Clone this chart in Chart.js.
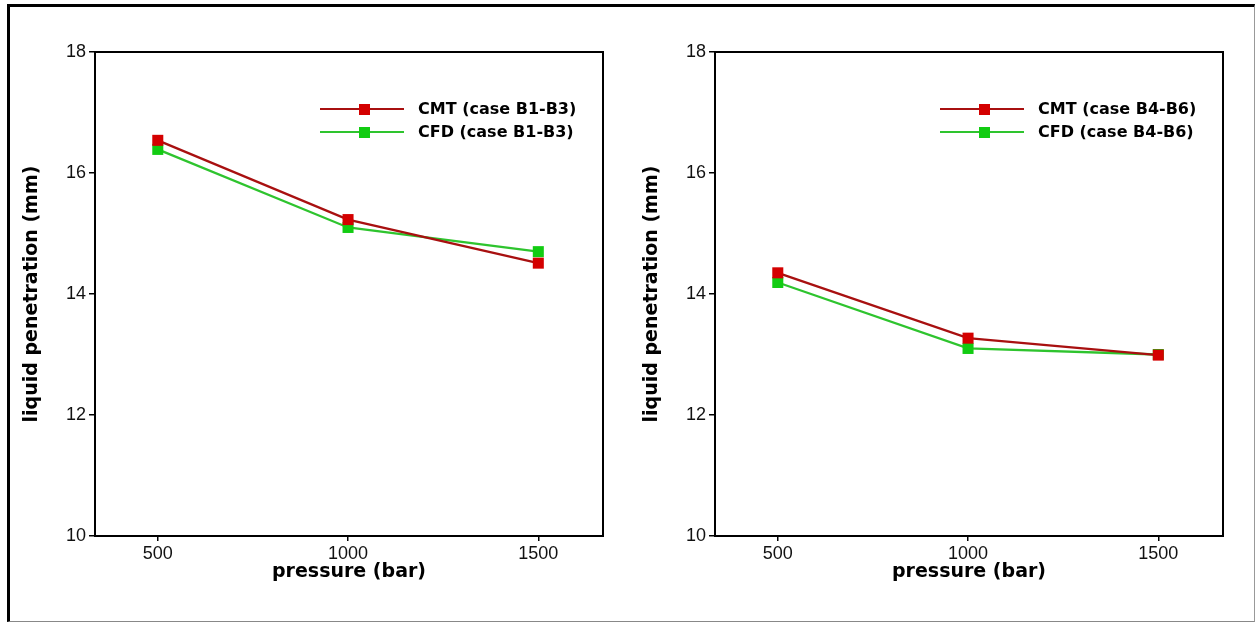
<!DOCTYPE html>
<html>
<head>
<meta charset="utf-8">
<script src="https://cdn.jsdelivr.net/npm/chart.js@4.4.1/dist/chart.umd.min.js"></script>
<style>
  html, body { margin: 0; padding: 0; background: #fff; }
  #page { position: relative; width: 1257px; height: 624px; overflow: hidden; }
  #frame {
    position: absolute; left: 7px; top: 4px; width: 1248px; height: 618px;
    border-left: 3px solid #000; border-top: 3px solid #000;
    border-right: 1px solid #999; border-bottom: 1px solid #888;
    box-sizing: border-box;
  }
  .box { position: absolute; top: 0; width: 620px; height: 624px; }
  #boxLeft { left: 8px; }
  #boxRight { left: 628px; }
</style>
</head>
<body>
<div id="page">
  <div id="frame"></div>
  <div class="box" id="boxLeft"><canvas id="chartLeft"></canvas></div>
  <div class="box" id="boxRight"><canvas id="chartRight"></canvas></div>
</div>
<script>
// pressure (bar)
const pressures = [500, 1000, 1500];
const yTicks = [10, 12, 14, 16, 18];

// left panel, cases B1-B3
const cmtLeft = [16.54, 15.23, 14.51];
const cfdLeft = [16.39, 15.10, 14.70];

// right panel, cases B4-B6
const cmtRight = [14.35, 13.27, 12.99];
const cfdRight = [14.19, 13.10, 13.00];

const labelsLeft = ['CMT (case B1-B3)', 'CFD (case B1-B3)'];
const labelsRight = ['CMT (case B4-B6)', 'CFD (case B4-B6)'];

const CMT_LINE = '#a81010';
const CMT_MARK = '#d40000';
const CFD_LINE = '#2ec42e';
const CFD_MARK = '#12cc12';

// draws the box around the plot and the in-plot legend
const framePlugin = {
    id: 'frameAndLegend',
    afterDatasetsDraw(chart) {
        const { ctx, chartArea: a } = chart;
        ctx.save();
        ctx.strokeStyle = '#000';
        ctx.lineWidth = 2;
        ctx.strokeRect(a.left, a.top, a.right - a.left, a.bottom - a.top);

        chart.data.datasets.forEach((ds, i) => {
            const y = a.top + 57 + i * 23;
            ctx.strokeStyle = ds.borderColor;
            ctx.lineWidth = 2.2;
            ctx.beginPath();
            ctx.moveTo(a.left + 225, y);
            ctx.lineTo(a.left + 309, y);
            ctx.stroke();
            ctx.fillStyle = ds.pointBackgroundColor;
            ctx.fillRect(a.left + 264, y - 5, 11, 11);
            ctx.fillStyle = '#000';
            ctx.font = 'bold 16px "DejaVu Sans"';
            ctx.textBaseline = 'middle';
            ctx.textAlign = 'left';
            ctx.fillText(ds.label, a.left + 323, y + 1);
        });
        ctx.restore();
    }
};

function makeChart(id, cmt, cfd, labels) {
    const ctx = document.getElementById(id);
    const series = [
        { label: labels[0], values: cmt, line: CMT_LINE, mark: CMT_MARK },
        { label: labels[1], values: cfd, line: CFD_LINE, mark: CFD_MARK }
    ];
    return new Chart(ctx, {
        type: 'line',
        data: {
            datasets: series.map(s => ({
                label: s.label,
                data: pressures.map((p, i) => ({ x: p, y: s.values[i] })),
                borderColor: s.line,
                backgroundColor: s.mark,
                pointBackgroundColor: s.mark,
                pointBorderColor: s.mark,
                pointBorderWidth: 0,
                pointStyle: 'rect',
                pointRadius: 7.8,
                borderWidth: 2.3,
                tension: 0,
                fill: false
            }))
        },
        options: {
            responsive: true,
            maintainAspectRatio: false,
            animation: false,
            events: [],
            layout: { padding: { left: 0, top: 52, right: 25, bottom: 0 } },
            plugins: {
                legend: { display: false },
                tooltip: { enabled: false }
            },
            scales: {
                x: {
                    type: 'linear',
                    min: 335,
                    max: 1670,
                    afterBuildTicks: axis => {
                        axis.ticks = pressures.map(v => ({ value: v }));
                    },
                    afterFit: s => { s.height = 88; },
                    grid: {
                        drawOnChartArea: false,
                        drawTicks: true,
                        tickLength: 5,
                        color: '#000',
                        lineWidth: 1.5
                    },
                    border: { display: true, color: '#000', width: 2 },
                    ticks: {
                        autoSkip: false,
                        maxRotation: 0,
                        padding: 2,
                        color: '#111',
                        font: { family: '"Liberation Sans", Arial', size: 18 },
                        callback: v => String(v)
                    },
                    title: {
                        display: true,
                        text: 'pressure (bar)',
                        color: '#000',
                        font: { family: '"DejaVu Sans"', size: 19, weight: 'bold' },
                        padding: { top: 0, bottom: 41 }
                    }
                },
                y: {
                    min: 10,
                    max: 18,
                    afterBuildTicks: axis => {
                        axis.ticks = yTicks.map(v => ({ value: v }));
                    },
                    afterFit: s => { s.width = 87; },
                    grid: {
                        drawOnChartArea: false,
                        drawTicks: true,
                        tickLength: 6,
                        color: '#000',
                        lineWidth: 1.5
                    },
                    border: { display: true, color: '#000', width: 2 },
                    ticks: {
                        padding: 3,
                        color: '#111',
                        font: { family: '"Liberation Sans", Arial', size: 18 }
                    },
                    title: {
                        display: true,
                        text: 'liquid penetration (mm)',
                        color: '#000',
                        font: { family: '"DejaVu Sans"', size: 19, weight: 'bold' },
                        padding: { top: 13, bottom: 0 }
                    }
                }
            }
        },
        plugins: [framePlugin]
    });
}

makeChart('chartLeft', cmtLeft, cfdLeft, labelsLeft);
makeChart('chartRight', cmtRight, cfdRight, labelsRight);
</script>
</body>
</html>
